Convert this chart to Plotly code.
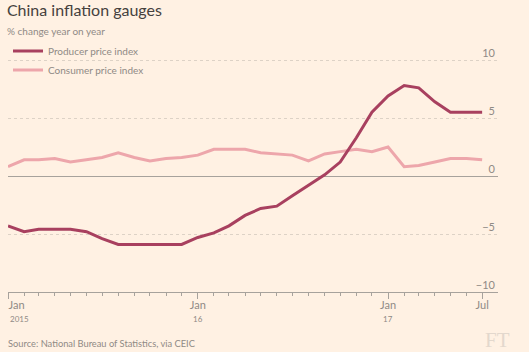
import plotly.graph_objects as go
import pandas as pd

months = pd.date_range("2015-01-01", "2017-07-01", freq="MS")

ppi = [-4.3, -4.8, -4.6, -4.6, -4.6, -4.8, -5.4, -5.9, -5.9, -5.9, -5.9, -5.9,
       -5.3, -4.9, -4.3, -3.4, -2.8, -2.6, -1.7, -0.8, 0.1, 1.2, 3.3, 5.5,
       6.9, 7.8, 7.6, 6.4, 5.5, 5.5, 5.5]
cpi = [0.8, 1.4, 1.4, 1.5, 1.2, 1.4, 1.6, 2.0, 1.6, 1.3, 1.5, 1.6,
       1.8, 2.3, 2.3, 2.3, 2.0, 1.9, 1.8, 1.3, 1.9, 2.1, 2.3, 2.1,
       2.5, 0.8, 0.9, 1.2, 1.5, 1.5, 1.4]

x_tickvals = ["2015-01-01", "2016-01-01", "2017-01-01", "2017-07-01"]
x_ticktext = ["", "Jan", "Jan", "Jul"]
# monthly minor ticks; only the first month is labelled (left-aligned)
minor_ticktext = ["Jan"] + [""] * (len(months) - 1)
year_vals = ["2015-01-01", "2016-01-01", "2017-01-01"]
year_text = ["2015", "16", "17"]
y_tickvals = [-10, -5, 0, 5, 10]

BG = "#fff1e3"
PPI_COL = "#a8405f"
CPI_COL = "#eda6ab"
GREY = "#8f8a85"
AXIS = "#a7a29c"
FONT = "Lato"
X_RANGE = ["2015-01-01", "2017-07-31 12:00"]

fig = go.Figure()
fig.add_trace(go.Scatter(x=months, y=ppi, name="Producer price index", mode="lines",
                         line=dict(color=PPI_COL, width=3), xaxis="x2", yaxis="y"))
fig.add_trace(go.Scatter(x=months, y=cpi, name="Consumer price index", mode="lines",
                         line=dict(color=CPI_COL, width=3), xaxis="x", yaxis="y"))

annotations = [
    dict(text="% change year on year", xref="paper", yref="paper", x=0, y=1.0,
         xshift=-3, yshift=13, xanchor="left", yanchor="middle", showarrow=False,
         font=dict(size=10, color=GREY)),
    dict(text="Source: National Bureau of Statistics, via CEIC", xref="paper", yref="paper",
         x=0, y=0, xshift=-2, yshift=-51, xanchor="left", yanchor="middle", showarrow=False,
         font=dict(size=9.3, color=GREY)),
    dict(text="FT", xref="paper", yref="paper", x=1, y=0, xshift=14, yshift=-48,
         xanchor="right", yanchor="middle", showarrow=False,
         font=dict(size=21, color="#e3d8cd", family="Liberation Serif")),
]
for i, (xv, tx) in enumerate(zip(year_vals, year_text)):
    annotations.append(dict(text=tx, xref="x", yref="paper", x=xv, y=0, yshift=-27,
                            xanchor="left" if i == 0 else "center", yanchor="middle",
                            showarrow=False, font=dict(size=8, color=GREY)))

fig.update_layout(
    width=529, height=352,
    margin=dict(l=8, r=31, t=44, b=60, autoexpand=False),
    paper_bgcolor=BG, plot_bgcolor=BG,
    font=dict(family=FONT, color=GREY, size=11),
    showlegend=True,
    legend=dict(x=0, y=1.03, xanchor="left", yanchor="top", bgcolor="rgba(0,0,0,0)",
                font=dict(size=10, color=GREY), tracegroupgap=0),
    title=dict(text="China inflation gauges", x=0.013, xanchor="left", y=0.97, yanchor="middle",
               font=dict(size=16, color="#45413e", family=FONT)),
    annotations=annotations,
)

fig.update_layout(
    xaxis=dict(
        range=X_RANGE,
        tickmode="array", tickvals=x_tickvals, ticktext=x_ticktext,
        ticks="outside", ticklen=6, tickcolor=AXIS, tickwidth=1,
        showline=True, linecolor=AXIS, linewidth=1,
        showgrid=False, zeroline=False, ticklabeloverflow="allow",
        tickfont=dict(size=11, color=GREY), ticklabelstandoff=-3,
    ),
    xaxis2=dict(
        overlaying="x", anchor="y", side="bottom", range=X_RANGE,
        tickmode="array", tickvals=months, ticktext=minor_ticktext,
        ticks="outside", ticklen=3, tickcolor=AXIS, tickwidth=1,
        ticklabelposition="outside right", ticklabelstandoff=3,
        showticklabels=True, showgrid=False, showline=False, zeroline=False,
        ticklabeloverflow="allow", tickfont=dict(size=11, color=GREY),
    ),
    yaxis=dict(
        range=[-10, 11.38], side="right",
        tickmode="array", tickvals=y_tickvals,
        ticklabelposition="inside", ticklabelshift=-7, ticks="",
        ticklabeloverflow="allow",
        showgrid=True, gridcolor="#ddd2c6", griddash="dot", gridwidth=1,
        zeroline=True, zerolinecolor=AXIS, zerolinewidth=1,
        tickfont=dict(size=11, color=GREY),
    ),
)

fig.write_html("out.html")
